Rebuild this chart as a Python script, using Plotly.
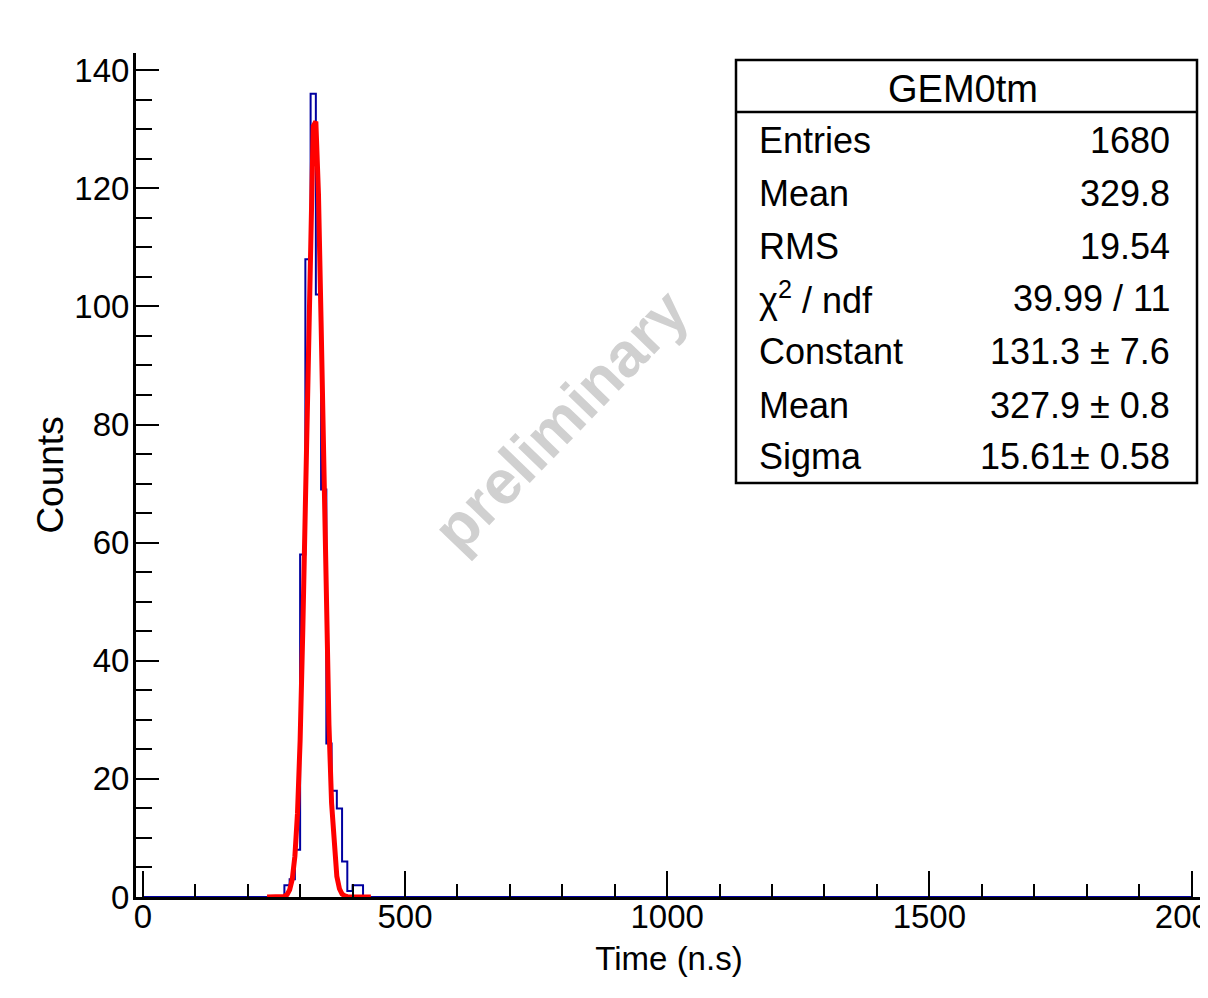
import numpy as np
import plotly.graph_objects as go

# histogram GEM0tm, 10 ns bins over 0..2000 ns, only the filled bins are listed
BIN_WIDTH = 10
X_MAX = 2000
first_bin = 260
blue_counts = [0, 2, 3, 8, 58, 108, 136, 102, 69, 26, 18, 15, 6, 1, 2, 2]

# gaussian fit curve
fit_x = [237, 245, 255, 265, 270, 275, 280, 285, 290, 295, 300, 305, 310, 315, 320,
         325, 330, 335, 340, 345, 350, 355, 360, 365, 370, 375, 380, 385, 390, 400, 415, 435]
fit_y = [0, 0, 0, 0.05, 0.1, 0.4, 1.2, 3.0, 6.9, 14.2, 26.5, 44.8, 68, 93.3, 116,
         130.5, 131.3, 119, 97.3, 72.1, 48.2, 29.1, 15.9, 7.8, 3.5, 1.4, 0.5, 0.2, 0.05, 0, 0, 0]

stats_title = "GEM0tm"
stats_labels = ["Entries", "Mean", "RMS", "\u03c7<sup>2</sup> / ndf", "Constant", "Mean", "Sigma"]
stats_values = ["1680", "329.8", "19.54", "39.99 / 11", "131.3 \u00b1 7.6", "327.9 \u00b1 0.8", "15.61\u00b1 0.58"]

x_ticks = [0, 500, 1000, 1500, 2000]

FONT = "Liberation Sans, Arial, sans-serif"

# the page body adds an 8px margin, so the figure is drawn 8px smaller
OFF = 8
W, H = 1208 - OFF, 998 - OFF
# plot area in reference pixels
L, R, T, B = 136, 1202, 53, 897


def px(x):
    return (x - L) / (R - L)


def py(y):
    return (B - y) / (B - T)


counts = np.zeros(X_MAX // BIN_WIDTH)
i0 = first_bin // BIN_WIDTH
counts[i0:i0 + len(blue_counts)] = blue_counts
edges = np.arange(0, X_MAX + BIN_WIDTH, BIN_WIDTH)

fig = go.Figure()
fig.add_trace(go.Scatter(
    x=edges, y=np.append(counts, counts[-1]),
    mode="lines", line=dict(shape="hv", color="#0000a0", width=2),
    hoverinfo="skip",
))
fig.add_trace(go.Scatter(
    x=fit_x, y=fit_y,
    mode="lines", line=dict(color="#ff0000", width=5),
    hoverinfo="skip",
))

shapes = [
    # right frame line
    dict(type="line", xref="paper", yref="paper", x0=1, x1=1, y0=0, y1=1,
         line=dict(color="black", width=2.5)),
    # stats box
    dict(type="rect", xref="paper", yref="paper", x0=px(736), x1=px(1197), y0=py(483), y1=py(60),
         line=dict(color="black", width=2.5), fillcolor="white", layer="above"),
    dict(type="line", xref="paper", yref="paper", x0=px(736), x1=px(1197), y0=py(112), y1=py(112),
         line=dict(color="black", width=2.5)),
]

annotations = [
    dict(text="preliminary", xref="paper", yref="paper", x=px(560), y=py(420),
         showarrow=False, textangle=-46,
         font=dict(family=FONT, size=62, color="#d0d0d0", weight="bold")),
    dict(text=stats_title, xref="paper", yref="paper", x=px(963), y=py(89),
         showarrow=False, xanchor="center", yanchor="middle",
         font=dict(family=FONT, size=38, color="black")),
]
row_y = [141, 193.5, 246.5, 298, 351.5, 405, 456.5]
for lab, val, yy in zip(stats_labels, stats_values, row_y):
    annotations.append(dict(text=lab, xref="paper", yref="paper", x=px(757), y=py(yy),
                            showarrow=False, xanchor="left", yanchor="middle",
                            font=dict(family=FONT, size=36, color="black")))
    annotations.append(dict(text=val, xref="paper", yref="paper", x=px(1172), y=py(yy),
                            showarrow=False, xanchor="right", yanchor="middle",
                            font=dict(family=FONT, size=36, color="black")))

fig.update_layout(
    width=W, height=H,
    margin=dict(l=L - OFF, r=W - (R - OFF), t=T - OFF, b=H - (B - OFF), pad=0, autoexpand=False),
    paper_bgcolor="white", plot_bgcolor="white",
    showlegend=False,
    font=dict(family=FONT, color="black"),
    shapes=shapes,
    annotations=annotations,
    xaxis=dict(
        range=[-13, 2020], showgrid=False, zeroline=False, automargin=False,
        showline=True, linecolor="black", linewidth=3,
        ticks="inside", ticklen=26, tickwidth=2, tickcolor="black",
        tickvals=x_ticks, tickfont=dict(size=33), ticklabelstandoff=-12,
        ticklabeloverflow="allow",
        minor=dict(dtick=100, tick0=0, ticks="inside", ticklen=13, tickwidth=2, tickcolor="black"),
        title=dict(text="Time (n.s)", font=dict(size=33), standoff=14),
    ),
    yaxis=dict(
        range=[0, 142.9], showgrid=False, zeroline=False, automargin=False,
        showline=True, linecolor="black", linewidth=3,
        ticks="inside", ticklen=23, tickwidth=2, tickcolor="black",
        dtick=20, tick0=0, tickfont=dict(size=33), ticklabelstandoff=-3,
        minor=dict(dtick=5, tick0=0, ticks="inside", ticklen=16, tickwidth=2, tickcolor="black"),
        title=dict(text="Counts", font=dict(size=37), standoff=0),
    ),
)

fig.write_html("out.html")
